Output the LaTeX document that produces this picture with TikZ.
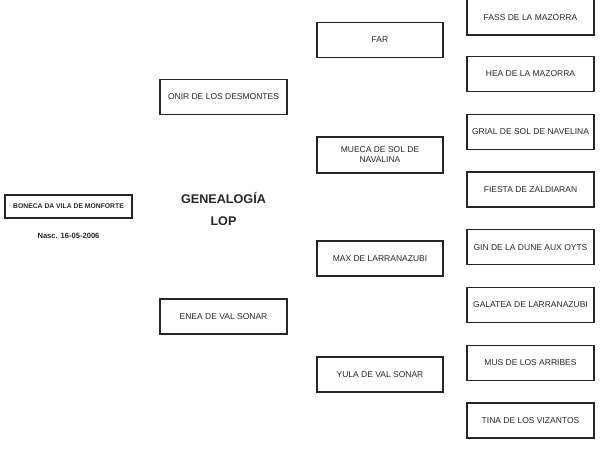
\documentclass[tikz,border=0pt]{standalone}
\usepackage{fontspec}
\setmainfont{Liberation Sans}
\definecolor{tinta}{HTML}{262626}

\begin{document}
\begin{tikzpicture}[x=1pt,y=-1pt,
    ficha/.style={draw=tinta,line width=1.1pt,minimum width=127pt,minimum height=35pt,
      inner sep=1pt,align=center,text=tinta,font=\fontsize{8.5}{10}\selectfont},
    titulo/.style={text=tinta,font=\fontsize{12.6}{15}\selectfont\bfseries}]
    \useasboundingbox (0,0) rectangle (600,461);
    \clip (0,0) rectangle (600,461);
    \node[ficha,minimum height=23pt,font=\fontsize{6.8}{8}\selectfont\bfseries] (boneca) at (68.5,206.5) {BONECA DA VILA DE MONFORTE};
    \node[text=tinta,font=\fontsize{7.6}{9}\selectfont\bfseries] (nasc) at (68.5,236) {Nasc. 16-05-2006};
    \node[titulo] (genealogia) at (223.5,198) {GENEALOGÍA};
    \node[titulo] (lop) at (223.5,221) {LOP};
    % padres
    \node[ficha] (onir) at (223.5,97) {ONIR DE LOS DESMONTES};
    \node[ficha] (enea) at (223.5,316.5) {ENEA DE VAL SONAR};
    % abuelos
    \node[ficha,minimum width=126pt] (far) at (380,40) {FAR};
    \node[ficha,minimum width=126pt,minimum height=36pt] (mueca) at (380,155) {MUECA DE SOL DE\\NAVALINA};
    \node[ficha,minimum width=126pt] (max) at (380,258.5) {MAX DE LARRANAZUBI};
    \node[ficha,minimum width=126pt] (yula) at (380,374.5) {YULA DE VAL SONAR};
    % bisabuelos (la primera ficha sale por arriba)
    \node[ficha,minimum height=45pt,text height=15pt,text depth=0pt] (bis0) at (530.5,12.5) {FASS DE LA MAZORRA};
    \foreach \nombre [count=\i] in {HEA DE LA MAZORRA,GRIAL DE SOL DE NAVELINA,
      FIESTA DE ZALDIARAN,GIN DE LA DUNE AUX OYTS,GALATEA DE LARRANAZUBI,MUS DE LOS ARRIBES,TINA DE LOS VIZANTOS}
    \node[ficha] (bis\i) at (530.5,16.2+57.75*\i) {\nombre};
  \end{tikzpicture}
\end{document}
